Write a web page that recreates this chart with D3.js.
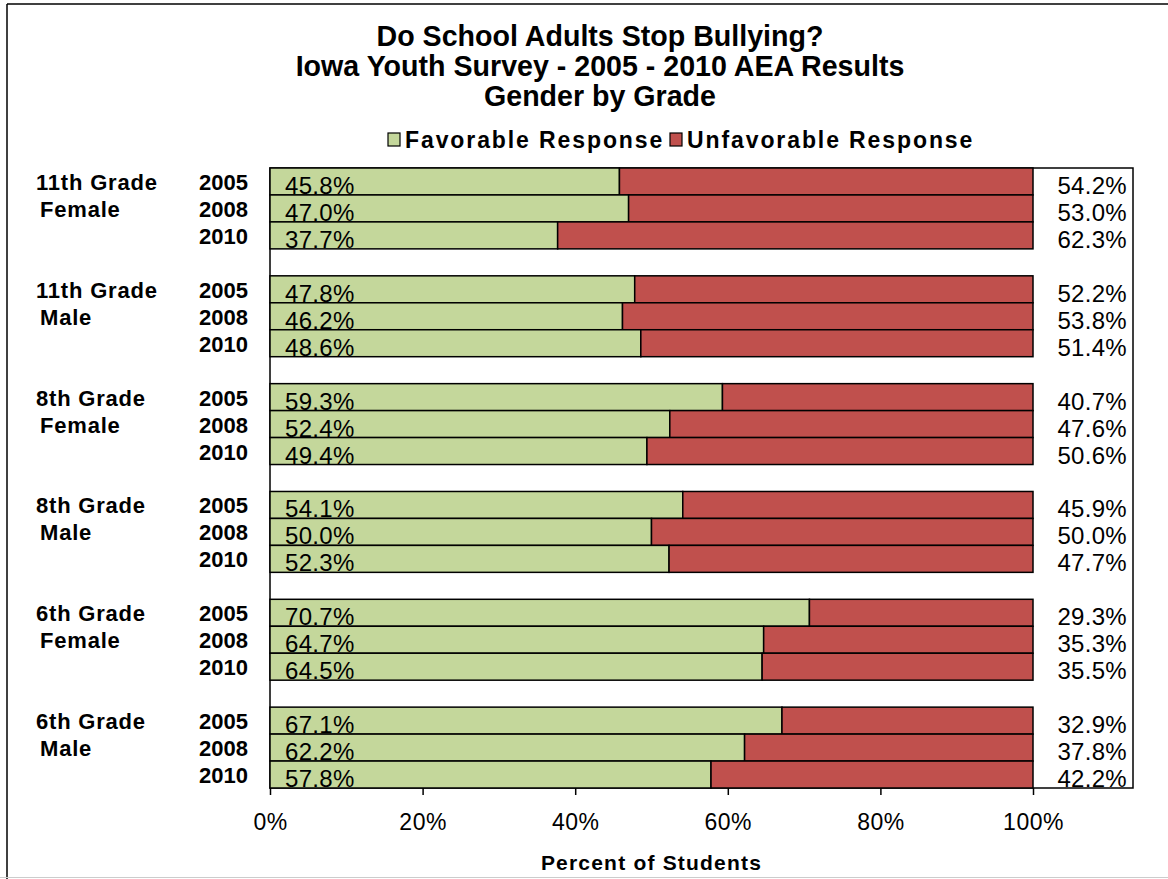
<!DOCTYPE html>
<html><head><meta charset="utf-8">
<script src="https://cdn.jsdelivr.net/npm/d3@7"></script>
<style>
html,body{margin:0;padding:0;background:#fff;}
text{font-family:"Liberation Sans",Arial,sans-serif;fill:#000;}
</style></head>
<body>
<svg id="chart" width="1168" height="879"></svg>
<script>
const titleLines = ["Do School Adults Stop Bullying?", "Iowa Youth Survey - 2005 - 2010 AEA Results", "Gender by Grade"];
const seriesNames = ["Favorable Response", "Unfavorable Response"];
const groups = [["11th Grade", "Female"], ["11th Grade", "Male"], ["8th Grade", "Female"], ["8th Grade", "Male"], ["6th Grade", "Female"], ["6th Grade", "Male"]];
const years = ["2005", "2008", "2010"];
const favorable = [45.8, 47.0, 37.7, 47.8, 46.2, 48.6, 59.3, 52.4, 49.4, 54.1, 50.0, 52.3, 70.7, 64.7, 64.5, 67.1, 62.2, 57.8];
const unfavorable = [54.2, 53.0, 62.3, 52.2, 53.8, 51.4, 40.7, 47.6, 50.6, 45.9, 50.0, 47.7, 29.3, 35.3, 35.5, 32.9, 37.8, 42.2];
const xTicks = [0, 20, 40, 60, 80, 100];
const xTitle = "Percent of Students";
const colors = ["#C4D79B", "#C0504D"];

const svg = d3.select("#chart");
// outer frame
svg.append("line").attr("x1",7).attr("x2",7).attr("y1",4).attr("y2",879).attr("stroke","#000").attr("stroke-width",1.5);
svg.append("line").attr("x1",7).attr("x2",1168).attr("y1",4).attr("y2",4).attr("stroke","#000").attr("stroke-width",1.5);
svg.append("line").attr("x1",0).attr("x2",1168).attr("y1",877.5).attr("y2",877.5).attr("stroke","#ccc").attr("stroke-width",1);

// rows: groups of 3 years separated by gap rows
const rows = [];
groups.forEach((g, gi) => {
  years.forEach((y, yi) => rows.push({key: gi + "-" + y, gi, yi, idx: gi*3+yi}));
  if (gi < groups.length - 1) rows.push({key: "gap" + gi, gap: true});
});
const bars = rows.filter(r => !r.gap);

const x = d3.scaleLinear().domain([0, 100]).range([270, 1033]);
const y = d3.scaleBand().domain(rows.map(r => r.key)).range([168, 788]).padding(0);
const plotRight = 1133;

// plot frame
svg.append("rect").attr("x", x(0)).attr("y", 168).attr("width", plotRight - x(0)).attr("height", 788 - 168)
  .attr("fill", "none").attr("stroke", "#000").attr("stroke-width", 1.5);

// bars
const g = svg.append("g");
bars.forEach(r => {
  const f = favorable[r.idx], u = unfavorable[r.idx];
  g.append("rect").attr("x", x(0)).attr("y", y(r.key)).attr("width", x(f) - x(0)).attr("height", y.bandwidth())
    .attr("fill", colors[0]).attr("stroke", "#000").attr("stroke-width", 1.5);
  g.append("rect").attr("x", x(f)).attr("y", y(r.key)).attr("width", x(100) - x(f)).attr("height", y.bandwidth())
    .attr("fill", colors[1]).attr("stroke", "#000").attr("stroke-width", 1.5);
  const base = y(r.key) + y.bandwidth() - 1;
  g.append("text").attr("x", x(0) + 15).attr("y", base).attr("font-size", 24).attr("letter-spacing", 0.3)
    .text(f.toFixed(1) + "%");
  g.append("text").attr("x", 1127).attr("y", base).attr("font-size", 24).attr("letter-spacing", 0.3)
    .attr("text-anchor", "end").text(u.toFixed(1) + "%");
  g.append("text").attr("x", 248).attr("y", base - 4).attr("font-size", 22).attr("font-weight", "bold")
    .attr("text-anchor", "end").text(years[r.yi]);
  if (r.yi < 2) {
    g.append("text").attr("x", r.yi === 0 ? 36 : 40).attr("y", base - 4).attr("font-size", 22)
      .attr("font-weight", "bold").attr("letter-spacing", 0.8).text(groups[r.gi][r.yi]);
  }
});

// x axis
const axis = d3.axisBottom(x).tickValues(xTicks).tickFormat(d => d + "%").tickSize(7).tickSizeOuter(0);
const ax = svg.append("g").attr("transform", "translate(0,788)").call(axis);
ax.select(".domain").remove();
ax.selectAll(".tick line").attr("stroke", "#000").attr("stroke-width", 1.5);
ax.selectAll(".tick text").attr("font-size", 23).attr("letter-spacing", 0.5).attr("font-family", "Liberation Sans, Arial, sans-serif")
  .attr("fill", "#000").attr("dy", null).attr("y", 0).attr("transform", "translate(0,42)");
svg.append("text").attr("x", (x(0) + x(100)) / 2).attr("y", 870).attr("text-anchor", "middle")
  .attr("font-size", 21).attr("font-weight", "bold").attr("letter-spacing", 1.2).text(xTitle);

// title
titleLines.forEach((t, i) => {
  svg.append("text").attr("x", 600).attr("y", 46 + i * 30).attr("text-anchor", "middle")
    .attr("font-size", 28.6).attr("font-weight", "bold").text(t);
});

// legend
const legX = [388, 670];
seriesNames.forEach((s, i) => {
  svg.append("rect").attr("x", legX[i]).attr("y", 133).attr("width", 12).attr("height", 13)
    .attr("fill", colors[i]).attr("stroke", "#000").attr("stroke-width", 1.2);
  svg.append("text").attr("x", legX[i] + 17).attr("y", 148).attr("font-size", 23).attr("font-weight", "bold")
    .attr("letter-spacing", 1.9).text(s);
});
</script>
</body></html>
